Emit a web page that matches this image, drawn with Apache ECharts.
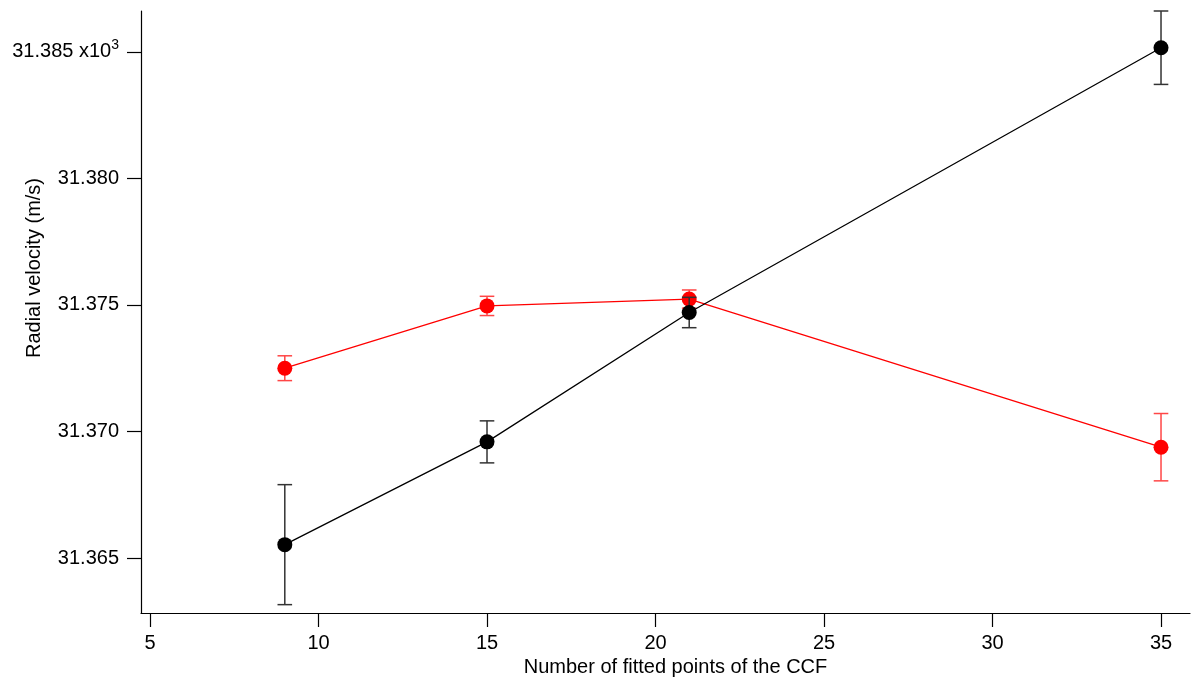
<!DOCTYPE html>
<html>
<head>
<meta charset="utf-8">
<script src="https://cdn.jsdelivr.net/npm/echarts@6/dist/echarts.min.js"></script>
<style>
  html, body { margin: 0; padding: 0; background: #fff; }
  #chart { width: 1192px; height: 684px; }
</style>
</head>
<body>
<div id="chart"></div>
<script>
// ---- data (radial velocity in units of 10^3 m/s) ----
const xValues = [9, 15, 21, 35];
const blackRV = [31.36553, 31.36959, 31.37470, 31.38516];
const blackErr = [0.00237, 0.00083, 0.00060, 0.00145];
const redRV = [31.37250, 31.37496, 31.37523, 31.36938];
const redErr = [0.00049, 0.00038, 0.00036, 0.00133];
const xTicks = [5, 10, 15, 20, 25, 30, 35];
const yTicks = [31.365, 31.370, 31.375, 31.380, 31.385];
const xTitle = 'Number of fitted points of the CCF';
const yTitle = 'Radial velocity (m/s)';

const FONT = '"Liberation Sans", Arial, Helvetica, sans-serif';

function errData(rv, err) {
  return xValues.map((x, i) => [x, rv[i] - err[i], rv[i] + err[i]]);
}
function lineData(rv) {
  return xValues.map((x, i) => [x, rv[i]]);
}
function errRender(color) {
  return function (params, api) {
    const x = api.value(0);
    const top = api.coord([x, api.value(2)]);
    const bot = api.coord([x, api.value(1)]);
    const w = 7.3;
    const st = { stroke: color, lineWidth: 1.5 };
    return {
      type: 'group',
      children: [
        { type: 'line', shape: { x1: top[0], y1: top[1], x2: bot[0], y2: bot[1] }, style: st },
        { type: 'line', shape: { x1: top[0] - w, y1: top[1], x2: top[0] + w, y2: top[1] }, style: st },
        { type: 'line', shape: { x1: bot[0] - w, y1: bot[1], x2: bot[0] + w, y2: bot[1] }, style: st }
      ]
    };
  };
}

const chart = echarts.init(document.getElementById('chart'), null, { renderer: 'canvas' });
chart.setOption({
  animation: false,
  backgroundColor: '#ffffff',
  textStyle: { fontFamily: FONT },
  grid: { left: 141, right: 2, top: 11, bottom: 71, containLabel: false, outerBoundsMode: 'none' },
  xAxis: {
    type: 'value',
    min: 4.733,
    max: 35.86,
    name: xTitle,
    nameLocation: 'middle',
    nameGap: 44,
    nameMoveOverlap: false,
    nameTextStyle: { color: '#000', fontSize: 20, fontFamily: FONT, padding: [0, 0, 0, 20] },
    axisLine: { show: true, onZero: false, lineStyle: { color: '#000', width: 1.2 } },
    axisTick: { show: true, inside: false, length: 14, customValues: xTicks, lineStyle: { color: '#000', width: 1.2 } },
    axisLabel: { color: '#000', fontSize: 20, fontFamily: FONT, margin: 20, customValues: xTicks },
    splitLine: { show: false }
  },
  yAxis: {
    type: 'value',
    min: 31.36283,
    max: 31.38661,
    name: yTitle,
    nameLocation: 'middle',
    nameRotate: 90,
    nameGap: 97,
    nameMoveOverlap: false,
    nameTextStyle: { color: '#000', fontSize: 20, fontFamily: FONT, padding: [0, 0, 0, 88] },
    axisLine: { show: true, onZero: false, lineStyle: { color: '#000', width: 1.2 } },
    axisTick: { show: true, inside: false, length: 14, customValues: yTicks, lineStyle: { color: '#000', width: 1.2 } },
    axisLabel: {
      color: '#000', fontSize: 20, fontFamily: FONT, margin: 22, customValues: yTicks,
      formatter: function (v) {
        const s = v.toFixed(3);
        if (Math.abs(v - yTicks[yTicks.length - 1]) < 1e-9) {
          return '{m|' + s + ' x10}{s|3}';
        }
        return s;
      },
      rich: {
        m: { fontSize: 20, fontFamily: FONT, color: '#000' },
        s: { fontSize: 14, fontFamily: FONT, color: '#000', padding: [0, 0, 14, 0] }
      }
    },
    splitLine: { show: false }
  },
  series: [
    {
      type: 'custom',
      name: 'red err',
      renderItem: errRender('#ff4646'),
      data: errData(redRV, redErr),
      encode: { x: 0, y: [1, 2] },
      clip: false,
      z: 1
    },
    {
      type: 'line',
      name: 'red',
      data: lineData(redRV),
      symbol: 'circle',
      symbolSize: 15,
      itemStyle: { color: '#ff0000' },
      lineStyle: { color: '#ff0000', width: 1.3 },
      z: 2
    },
    {
      type: 'custom',
      name: 'black err',
      renderItem: errRender('#333333'),
      data: errData(blackRV, blackErr),
      encode: { x: 0, y: [1, 2] },
      clip: false,
      z: 3
    },
    {
      type: 'line',
      name: 'black',
      data: lineData(blackRV),
      symbol: 'circle',
      symbolSize: 15,
      itemStyle: { color: '#000000' },
      lineStyle: { color: '#000000', width: 1.3 },
      z: 4
    }
  ]
});
</script>
</body>
</html>
